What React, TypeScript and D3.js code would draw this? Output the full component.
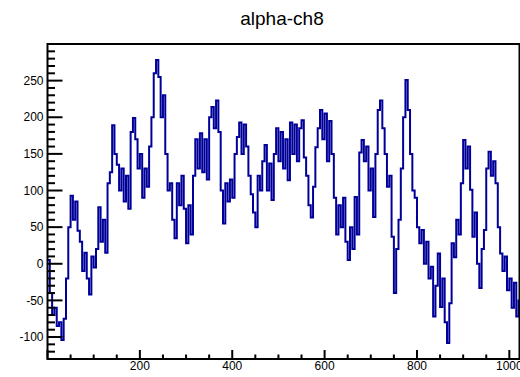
import React from 'react';
import * as d3 from 'd3';

const title = 'alpha-ch8';
const binWidth = 5;
const counts = [
  5, -40, -70, -60, -85, -80, -104, -75, -20, 50,
  93, 60, 85, 45, 30, -10, 15, -20, -42, 10,
  -5, 20, 77, 30, 60, 15, 110, 125, 189, 150,
  135, 100, 130, 85, 120, 75, 180, 199, 170, 130,
  150, 90, 130, 105, 160, 200, 260, 278, 255, 200,
  230, 150, 100, 110, 60, 35, 110, 80, 120, 75,
  28, 80, 40, 120, 170, 130, 178, 125, 170, 115,
  200, 214, 185, 223, 180, 100, 55, 110, 85, 115,
  90, 150, 173, 193, 150, 190, 160, 120, 95, 70,
  50, 120, 100, 140, 162, 100, 137, 87, 150, 185,
  140, 180, 130, 170, 114, 193, 150, 190, 140, 185,
  196, 145, 120, 80, 63, 105, 159, 185, 210, 170,
  205, 140, 195, 150, 90, 40, 80, 50, 90, 30,
  5, 50, 20, 91, 40, 152, 169, 140, 160, 100,
  130, 64, 150, 210, 223, 185, 150, 105, 120, 37,
  -40, 20, 60, 130, 200, 251, 210, 150, 100, 90,
  50, 28, 46, 0, 30, -20, -4, -72, -30, 14,
  -59, -20, -80, -108, -54, 28, 9, 60, 40, 110,
  169, 130, 160, 101, 37, 70, 0, -33, 20, 46,
  130, 153, 120, 140, 110, 50, 14, -10, 10, -36,
  -20, -60, -26, -72, -50,
];
const xDomain = [0, 1022];
const yDomain = [-130, 300];
const xTickLabels = [200, 400, 600, 800, 1000];
const yTickLabels = [-100, -50, 0, 50, 100, 150, 200, 250];

export default function App() {
  const W = 520, H = 377;
  const left = 47.5, right = 519.5, top = 44, bottom = 359;
  const x = d3.scaleLinear().domain(xDomain).range([left, right]);
  const y = d3.scaleLinear().domain(yDomain).range([bottom, top]);

  const pts: [number, number][] = counts.map((v, i) => [i * binWidth, v]);
  pts.push([counts.length * binWidth, counts[counts.length - 1]]);
  const line = d3.line<[number, number]>()
    .x(d => x(d[0]))
    .y(d => y(d[1]))
    .curve(d3.curveStepAfter);

  const xMinor = d3.range(0, 1001, 50);
  const yMinor = d3.range(-130, 301, 10);
  const font = '"Liberation Sans", Arial, Helvetica, sans-serif';

  return (
    <svg width={W} height={H} style={{ position: 'absolute', left: 0, top: 0, background: '#fff' }}
      fontFamily={font}>
      <rect x={0} y={0} width={W} height={H} fill="#fff" />
      <defs>
        <clipPath id="frame">
          <rect x={left} y={top} width={right - left} height={bottom - top} />
        </clipPath>
      </defs>
      <text x={282} y={25} textAnchor="middle" fontSize={19} fill="#000">{title}</text>
      <g clipPath="url(#frame)">
        <path d={line(pts) || ''} fill="none" stroke="#000099" strokeWidth={2} strokeLinejoin="miter" />
      </g>
      {/* y ticks */}
      {yMinor.map(v => {
        const major = v % 50 === 0;
        return <line key={'ym' + v} x1={left} x2={left + (major ? 15 : 7.5)} y1={y(v)} y2={y(v)}
          stroke="#000" strokeWidth={2} />;
      })}
      {yTickLabels.map(v => (
        <text key={'yl' + v} x={43.5} y={y(v)} dy="0.35em" textAnchor="end" fontSize={12} fill="#000">{v}</text>
      ))}
      {/* x ticks */}
      {xMinor.map(v => {
        const major = v % 200 === 0;
        return <line key={'xm' + v} x1={x(v)} x2={x(v)} y1={bottom} y2={bottom - (major ? 9 : 4.5)}
          stroke="#000" strokeWidth={2} />;
      })}
      {xTickLabels.map(v => (
        <text key={'xl' + v} x={x(v)} y={370} textAnchor="middle" fontSize={12} fill="#000">{v}</text>
      ))}
      <rect x={left} y={top} width={right - left} height={bottom - top} fill="none" stroke="#000" strokeWidth={2} />
    </svg>
  );
}
